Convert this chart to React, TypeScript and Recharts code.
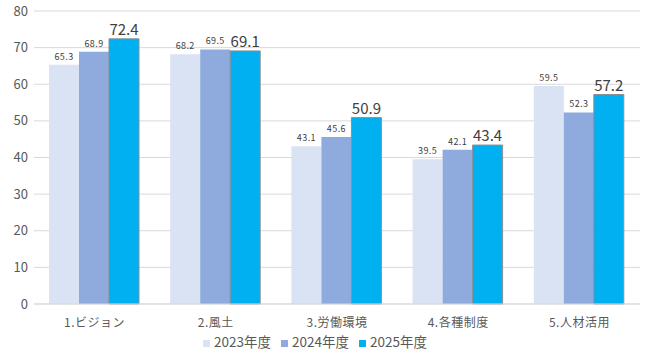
import React from 'react';
import { BarChart, Bar, XAxis, YAxis, CartesianGrid, Legend, LabelList } from 'recharts';

const categories = ['1.ビジョン', '2.風土', '3.労働環境', '4.各種制度', '5.人材活用'];
const values2023 = [65.3, 68.2, 43.1, 39.5, 59.5];
const values2024 = [68.9, 69.5, 45.6, 42.1, 52.3];
const values2025 = [72.4, 69.1, 50.9, 43.4, 57.2];
const yTicks = [0, 10, 20, 30, 40, 50, 60, 70, 80];

const data = categories.map((c, i) => ({
  name: c,
  y2023: values2023[i],
  y2024: values2024[i],
  y2025: values2025[i],
}));

const FONT = '"Noto Sans CJK JP", "Noto Sans", sans-serif';

export default function App() {
  return (
    <div style={{ position: 'absolute', left: 0, top: 0, fontFamily: FONT }}>
      <BarChart
        width={652}
        height={357}
        data={data}
        margin={{ top: 11, right: 12, left: 0, bottom: 7 }}
        barCategoryGap={15}
        barGap={0}
      >
        <CartesianGrid vertical={false} stroke="#D9D9D9" />
        <XAxis
          dataKey="name"
          axisLine={{ stroke: '#D9D9D9' }}
          tickLine={false}
          tick={{ fill: '#595959', fontSize: 12, fontFamily: FONT, letterSpacing: 0.5 }}
          tickMargin={8}
          height={28}
        />
        <YAxis
          domain={[0, 80]}
          ticks={yTicks}
          axisLine={false}
          tickLine={false}
          tick={{ fill: '#595959', fontSize: 13, fontFamily: FONT }}
          width={34}
          tickSize={0}
          tickMargin={6}
        />
        <Legend
          verticalAlign="bottom"
          iconType="square"
          iconSize={7}
          wrapperStyle={{ fontSize: 13.5, color: '#595959', fontFamily: FONT, lineHeight: '18px' }}
          formatter={(v) => <span style={{ color: '#595959' }}>{v}</span>}
        />
        <Bar dataKey="y2023" name="2023年度" fill="#DAE3F3" isAnimationActive={false}>
          <LabelList dataKey="y2023" position="top" offset={5} style={{ fill: '#404040', fontSize: 9, fontFamily: FONT, letterSpacing: 0.4 }} />
        </Bar>
        <Bar dataKey="y2024" name="2024年度" fill="#8FAADC" isAnimationActive={false}>
          <LabelList dataKey="y2024" position="top" offset={5} style={{ fill: '#404040', fontSize: 9, fontFamily: FONT, letterSpacing: 0.4 }} />
        </Bar>
        <Bar dataKey="y2025" name="2025年度" fill="#00B0F0" stroke="#8a8f96" strokeWidth={1} isAnimationActive={false}>
          <LabelList dataKey="y2025" position="top" offset={4} style={{ fill: '#404040', fontSize: 15, fontFamily: FONT, fontWeight: 400 }} />
        </Bar>
      </BarChart>
    </div>
  );
}
